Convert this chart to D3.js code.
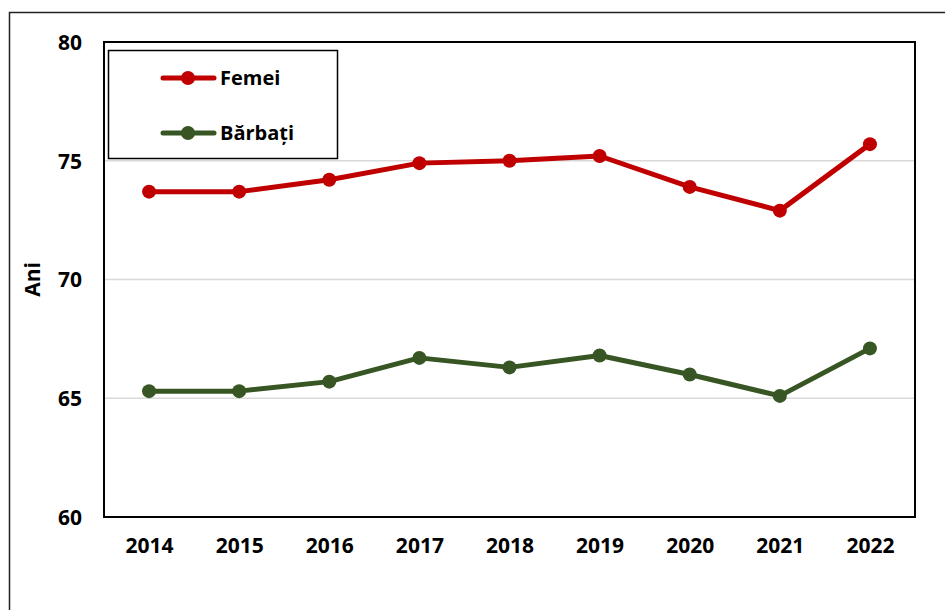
<!DOCTYPE html>
<html>
<head>
<meta charset="utf-8">
<script src="https://cdn.jsdelivr.net/npm/d3@7"></script>
<style>
body { margin: 0; background: #fff; }
text { font-family: "Open Sans", "Liberation Sans", sans-serif; font-weight: bold; fill: #000; }
</style>
</head>
<body>
<div class="chart"></div>
<script>
var years = ["2014", "2015", "2016", "2017", "2018", "2019", "2020", "2021", "2022"];
var femei = [73.7, 73.7, 74.2, 74.9, 75.0, 75.2, 73.9, 72.9, 75.7];
var barbati = [65.3, 65.3, 65.7, 66.7, 66.3, 66.8, 66.0, 65.1, 67.1];
var yTicks = [60, 65, 70, 75, 80];
var seriesNames = ["Femei", "Bărbați"];
var seriesColors = ["#C00000", "#375623"];

var width = 945, height = 610;
var plot = { left: 104, top: 42, right: 915, bottom: 517 };

var svg = d3.select(".chart").append("svg")
	.attr("width", width)
	.attr("height", height);

// outer chart frame (runs off the right and bottom edge)
svg.append("rect")
	.attr("x", 9.5).attr("y", 12.5)
	.attr("width", 960).attr("height", 620)
	.attr("fill", "none")
	.attr("stroke", "#222")
	.attr("stroke-width", 1.5);

var x = d3.scalePoint()
	.domain(years)
	.range([plot.left, plot.right])
	.padding(0.5);

var y = d3.scaleLinear()
	.domain([60, 80])
	.range([plot.bottom, plot.top]);

// gridlines
svg.append("g")
	.selectAll("line")
	.data(yTicks.filter(function(d) { return d > 60 && d < 80; }))
	.enter().append("line")
	.attr("x1", plot.left).attr("x2", plot.right)
	.attr("y1", function(d) { return y(d); })
	.attr("y2", function(d) { return y(d); })
	.attr("stroke", "#d9d9d9")
	.attr("stroke-width", 1.5);

// plot border
svg.append("rect")
	.attr("x", plot.left).attr("y", plot.top)
	.attr("width", plot.right - plot.left)
	.attr("height", plot.bottom - plot.top)
	.attr("fill", "none")
	.attr("stroke", "#000")
	.attr("stroke-width", 2);

// y axis
var yAxis = svg.append("g")
	.attr("transform", "translate(" + plot.left + ",0)")
	.call(d3.axisLeft(y).tickValues(yTicks).tickSize(0).tickPadding(22));
yAxis.select(".domain").remove();
yAxis.selectAll("text")
	.attr("font-size", 21)
	.attr("font-family", null)
	.attr("dy", "0.35em");

// x axis
var xAxis = svg.append("g")
	.attr("transform", "translate(0," + plot.bottom + ")")
	.call(d3.axisBottom(x).tickSize(0).tickPadding(21));
xAxis.select(".domain").remove();
xAxis.selectAll("text")
	.attr("font-size", 21)
	.attr("font-family", null);

svg.append("text")
	.attr("transform", "translate(40," + ((plot.top + plot.bottom) / 2) + ") rotate(-90)")
	.attr("text-anchor", "middle")
	.attr("font-size", 21)
	.text("Ani");

var line = d3.line()
	.x(function(d, i) { return x(years[i]); })
	.y(function(d) { return y(d); });

var allSeries = [femei, barbati];
for(var s = 0; s < allSeries.length; s++) {
	svg.append("path")
		.datum(allSeries[s])
		.attr("d", line)
		.attr("fill", "none")
		.attr("stroke", seriesColors[s])
		.attr("stroke-width", 5)
		.attr("stroke-linejoin", "round");

	svg.append("g")
		.selectAll("circle")
		.data(allSeries[s])
		.enter().append("circle")
		.attr("cx", function(d, i) { return x(years[i]); })
		.attr("cy", function(d) { return y(d); })
		.attr("r", 7)
		.attr("fill", seriesColors[s]);
}

// legend
var legend = svg.append("g");
legend.append("rect")
	.attr("x", 108.5).attr("y", 50.5)
	.attr("width", 229).attr("height", 108)
	.attr("fill", "#fff")
	.attr("stroke", "#000")
	.attr("stroke-width", 1.5);

for(var k = 0; k < seriesNames.length; k++) {
	var ly = 78 + k * 55;
	legend.append("line")
		.attr("x1", 163).attr("x2", 214)
		.attr("y1", ly).attr("y2", ly)
		.attr("stroke", seriesColors[k])
		.attr("stroke-width", 5)
		.attr("stroke-linecap", "round");
	legend.append("circle")
		.attr("cx", 188).attr("cy", ly)
		.attr("r", 7)
		.attr("fill", seriesColors[k]);
	legend.append("text")
		.attr("x", 220).attr("y", ly)
		.attr("dy", "0.35em")
		.attr("font-size", 20)
		.text(seriesNames[k]);
}
</script>
</body>
</html>
